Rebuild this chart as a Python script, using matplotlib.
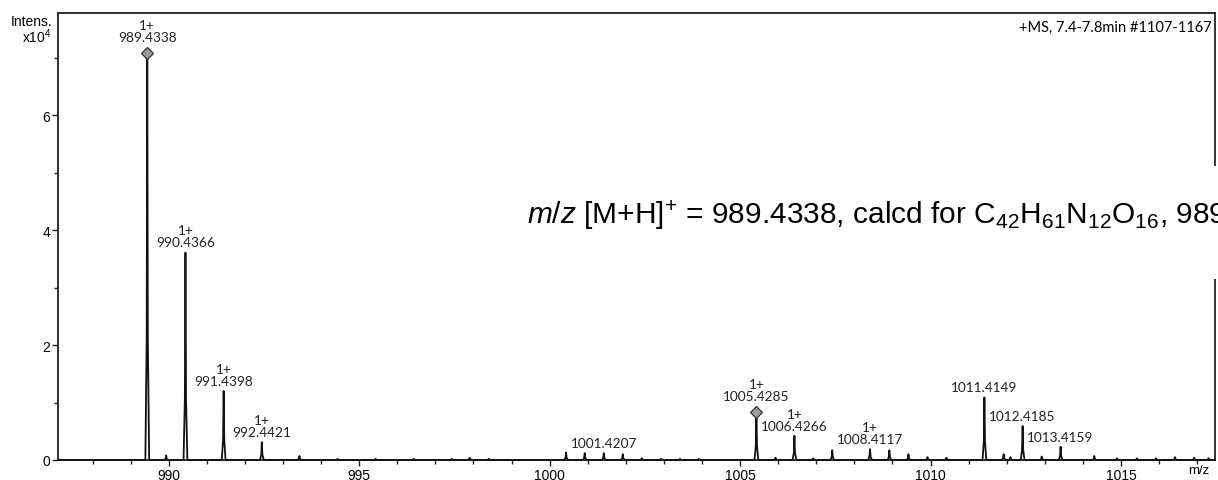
import matplotlib
matplotlib.use("Agg")
import matplotlib.pyplot as plt
from matplotlib.ticker import MultipleLocator
from matplotlib.patches import Rectangle

plt.rcParams['font.family'] = ['Liberation Sans', 'DejaVu Sans']
plt.rcParams['mathtext.fontset'] = 'custom'
plt.rcParams['mathtext.rm'] = 'Liberation Sans'
plt.rcParams['mathtext.it'] = 'Liberation Sans:italic'

# labelled peaks (m/z, intensity x10^4)
peak_mz = [989.4338, 990.4366, 991.4398, 992.4421, 1001.4207,
           1005.4285, 1006.4266, 1008.4117, 1011.4149, 1012.4185, 1013.4159]
peak_int = [7.08, 3.61, 1.20, 0.31, 0.12, 0.84, 0.42, 0.19, 1.09, 0.59, 0.23]
peak_charge = ['1+', '1+', '1+', '1+', '', '1+', '1+', '1+', '', '', '']
marked = [989.4338, 1005.4285]

# small unlabelled peaks
minor_mz = [989.93, 993.43, 994.43, 995.43, 996.43, 997.43, 997.9, 998.4,
            1000.43, 1000.92, 1001.92, 1002.42, 1002.92, 1003.42, 1003.92,
            1005.93, 1006.92, 1007.42, 1008.92, 1009.42, 1009.92, 1010.42,
            1011.92, 1012.1, 1012.92, 1014.3, 1014.9, 1015.42, 1015.92,
            1016.42, 1016.92, 1017.3]
minor_int = [0.08, 0.07, 0.02, 0.02, 0.02, 0.02, 0.04, 0.02,
             0.13, 0.12, 0.10, 0.03, 0.02, 0.02, 0.02,
             0.04, 0.03, 0.17, 0.17, 0.10, 0.05, 0.04,
             0.10, 0.05, 0.06, 0.07, 0.03, 0.03, 0.03,
             0.05, 0.04, 0.03]

xmin, xmax = 987.09, 1017.47

fig = plt.figure(figsize=(12.18, 4.81), dpi=100)
ax = fig.add_axes([58/1218, 20/481, (1215-58)/1218, (461-14)/481])

# build a simple profile trace from the peak list
allpk = sorted(zip(peak_mz + minor_mz, peak_int + minor_int))
xs, ys = [xmin], [0]
w = 0.05
for mz, h in allpk:
    xs += [mz - w, mz - w * 0.3, mz, mz + w * 0.3, mz + w]
    ys += [0, h * 0.3, h, h * 0.3, 0]
xs.append(xmax)
ys.append(0)
ax.plot(xs, ys, color='#111111', lw=1.3, zorder=3, clip_on=False)

for mz, h, ch in zip(peak_mz, peak_int, peak_charge):
    if mz in marked:
        ax.plot(mz, h, marker='D', ms=6.5, mfc='#9a9a9a', mec='#333333', mew=0.9, zorder=4)
        off = 7
    else:
        off = 3
    txt = ch + '\n' + f'{mz:.4f}' if ch else f'{mz:.4f}'
    ax.annotate(txt, (mz, h), xytext=(0, off), textcoords='offset points',
                ha='center', va='bottom', fontsize=9.8, family=['Lato', 'DejaVu Sans'],
                linespacing=1.0, color='#222222')

ax.set_xlim(xmin, xmax)
ax.set_ylim(0, 7.78)
ax.xaxis.set_major_locator(MultipleLocator(5))
ax.xaxis.set_minor_locator(MultipleLocator(1))
ax.yaxis.set_major_locator(MultipleLocator(2))
ax.yaxis.set_minor_locator(MultipleLocator(1))
ax.tick_params(which='both', direction='out', width=1, color='#222222')
ax.tick_params(which='major', length=4, labelsize=10, pad=1.5)
ax.tick_params(which='minor', length=3)
for s in ax.spines.values():
    s.set_linewidth(1.3)
    s.set_color('#222222')

ax.text(0.995, -0.01, 'm/z', transform=ax.transAxes, ha='right', va='top', fontsize=9.5)
ax.text(0.997, 0.985, '+MS, 7.4-7.8min #1107-1167', transform=ax.transAxes,
        ha='right', va='top', fontsize=10.5, family=['Lato', 'DejaVu Sans'])

fig.text(52/1218, 1 - 22/481, 'Intens.', ha='right', va='center', fontsize=10)
fig.text(52/1218, 1 - 37/481, 'x10$^4$', ha='right', va='center', fontsize=10)

# pasted formula box covering the right frame
fig.patches.append(Rectangle((520/1218, 1 - 280/481), 700/1218, 113/481,
                             transform=fig.transFigure, facecolor='white',
                             edgecolor='none', zorder=5))
fig.text(527/1218, 1 - 224/481,
         r'$\mathit{m/z}$ [M+H]$^{+}$ = 989.4338, calcd for '
         r'C$_{42}$H$_{61}$N$_{12}$O$_{16}$, 989.4330',
         ha='left', va='baseline', fontsize=21.5, zorder=6)

fig.savefig('out.png', dpi=100)
